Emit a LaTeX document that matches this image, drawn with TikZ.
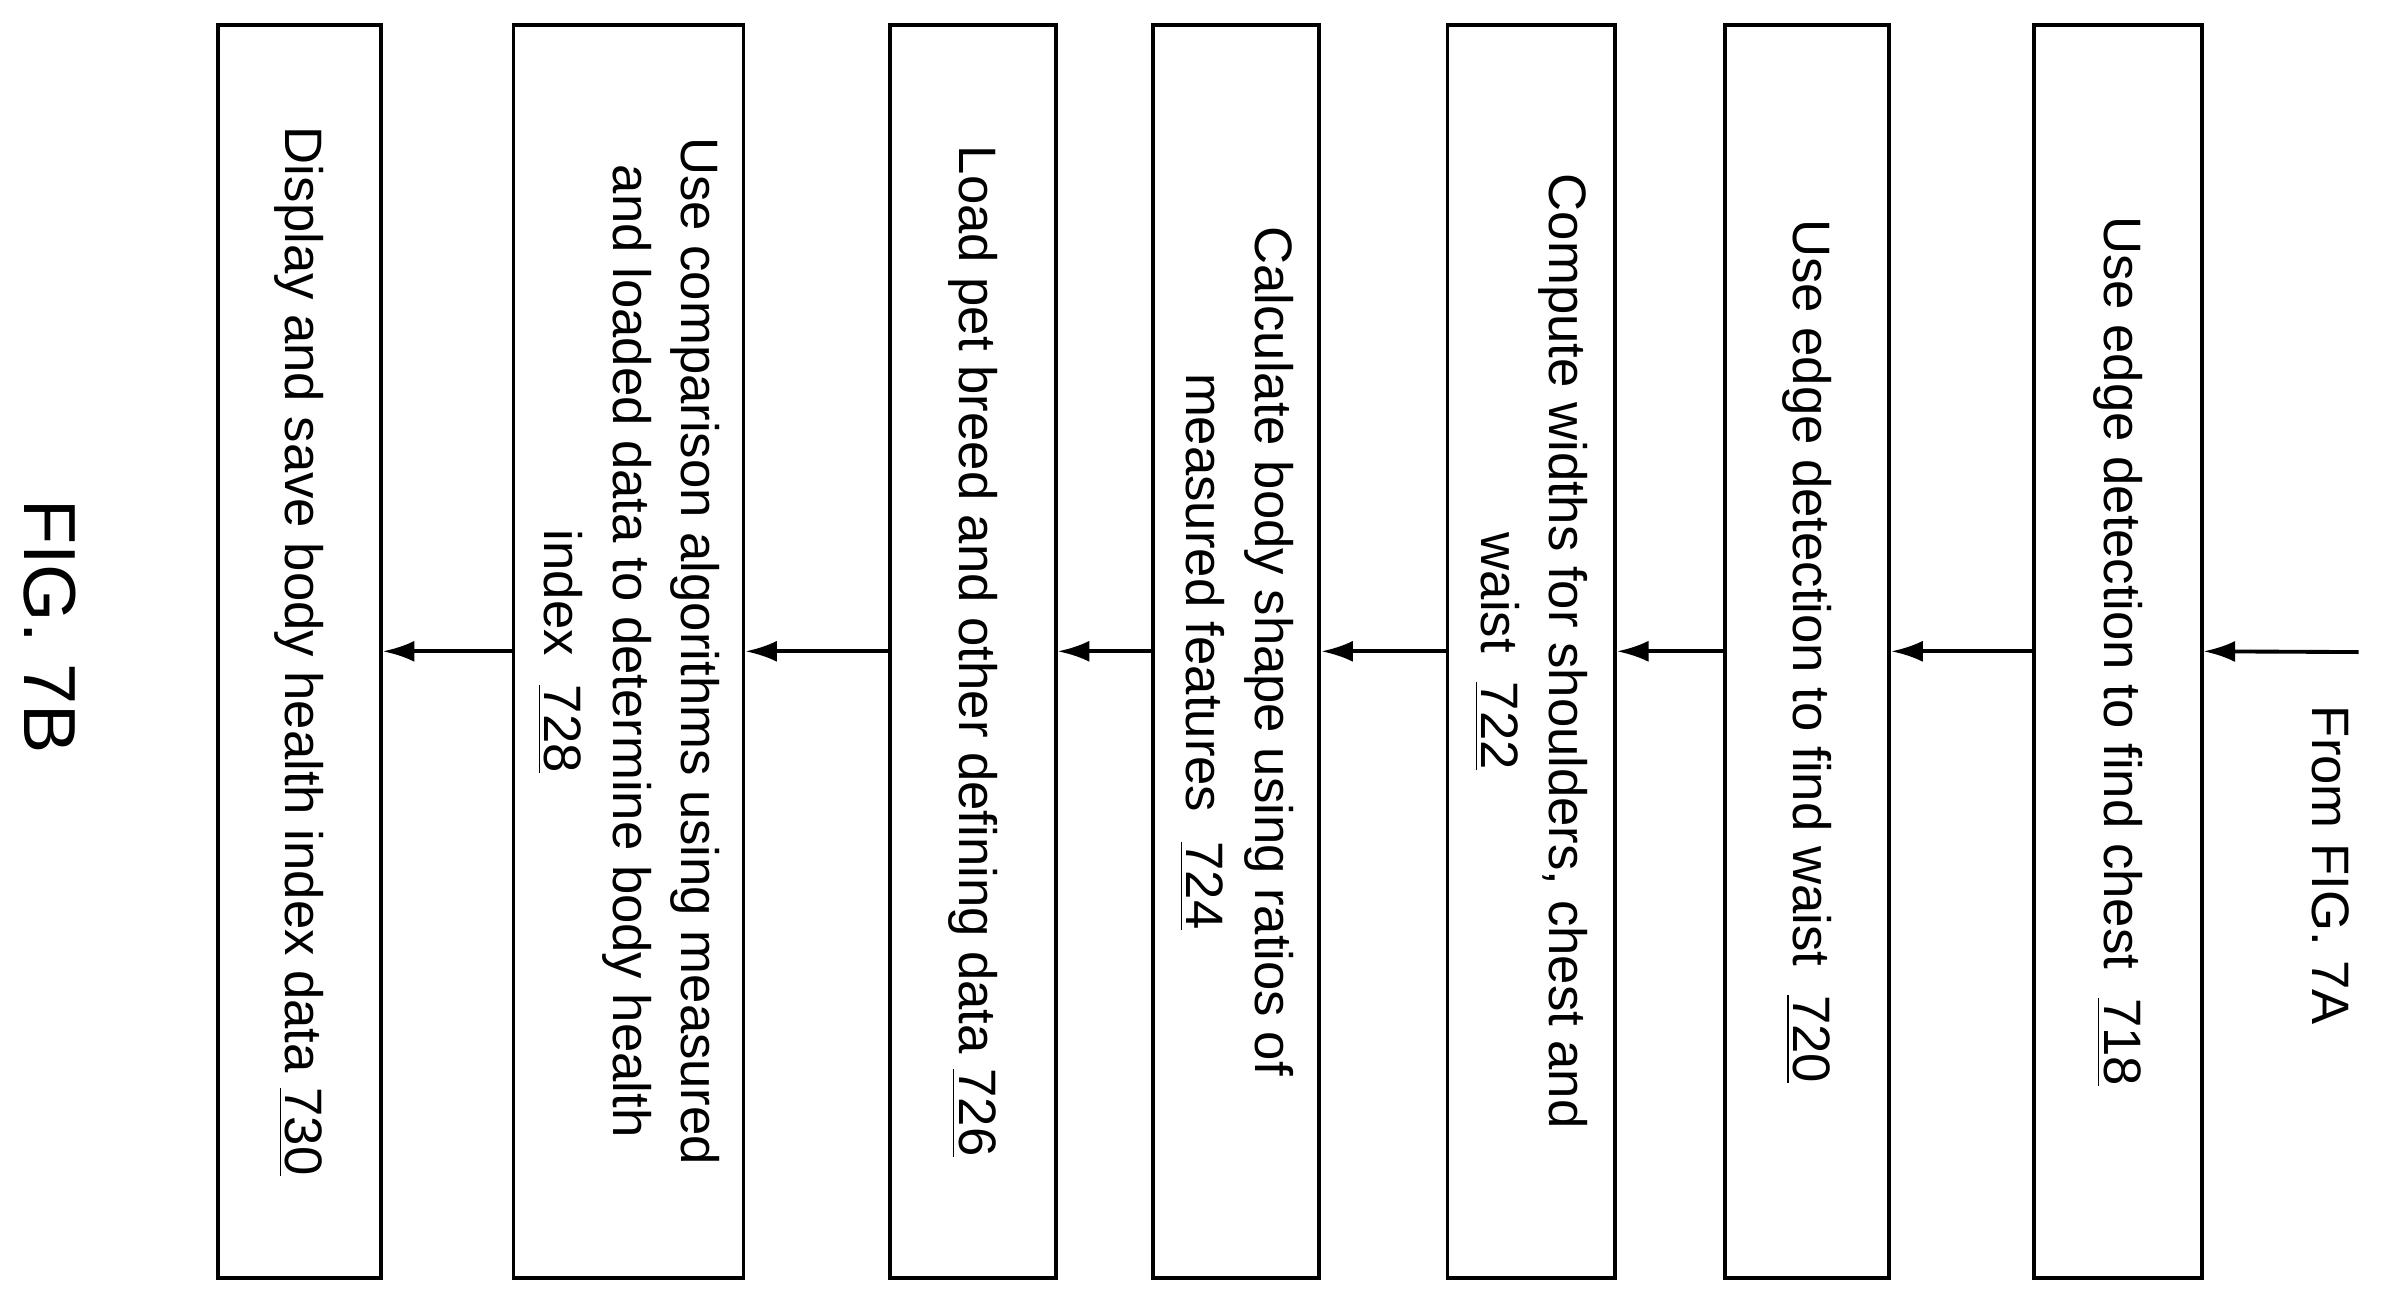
\documentclass[tikz,border=0pt]{standalone}
\usepackage{fontspec}
\setmainfont{Liberation Sans}
\usetikzlibrary{arrows.meta}
\begin{document}
\begin{tikzpicture}
          [x=0.015236cm,y=0.015236cm,
          font=\fontsize{15}{19.5}\selectfont,
          box/.style={shape=rectangle,draw=black,line width=1.1pt,rotate=-90,
            minimum width=12.54cm,align=center,inner sep=0pt},
          arc/.style={-{Latex[length=9pt,width=6pt]},line width=1.1pt}]

            \useasboundingbox (0,0) rectangle (1568,856);

            \node (s718) [box,minimum height=1.676cm] at (1390,428.5) {Use edge detection to find chest\ \ \underline{718}};
            \node (s720) [box,minimum height=1.646cm] at (1186,428.5) {Use edge detection to find waist\ \ \underline{720}};
            \node (s722) [box,minimum height=1.676cm] at (1005,428.5) {Compute widths for shoulders, chest and\\ waist\ \ \underline{722}};
            \node (s724) [box,minimum height=1.661cm] at (811.5,428.5) {Calculate body shape using ratios of\\ measured features\ \ \underline{724}};
            \node (s726) [box,minimum height=1.661cm] at (638.5,428.5) {Load pet breed and other defining data \underline{726}};
            \node (s728) [box,minimum height=2.3cm] at (412.5,428.5) {Use comparison algorithms using measured\\ and loaded data to determine body health\\ index\ \ \underline{728}};
            \node (s730) [box,minimum height=1.63cm] at (196.5,428.5) {Display and save body health index data \underline{730}};

            \coordinate (in) at (1548,428);
            \node (from) [rotate=-90] at (1530,288) {From FIG. 7A};
            \node (fig) [rotate=-90,font=\fontsize{21}{25}\selectfont] at (33,445) {FIG. 7B};

            \draw [arc] (in) -- (s718.north);
            \draw [arc] (s718.south) -- (s720.north);
            \draw [arc] (s720.south) -- (s722.north);
            \draw [arc] (s722.south) -- (s724.north);
            \draw [arc] (s724.south) -- (s726.north);
            \draw [arc] (s726.south) -- (s728.north);
            \draw [arc] (s728.south) -- (s730.north);

\end{tikzpicture}
\end{document}
